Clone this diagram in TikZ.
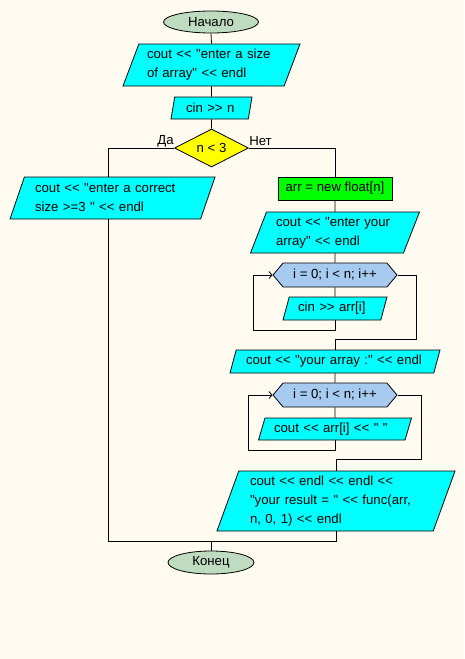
\documentclass[tikz,border=0pt]{standalone}
\usepackage{fontspec}
\newfontfamily\diagfam{Liberation Sans}
\newcommand\diagfont{\diagfam\fontsize{13.2}{19}\selectfont}
\usetikzlibrary{shapes.geometric,shapes.symbols,arrows.meta}
\definecolor{bgc}{HTML}{FFFBF0}
\definecolor{cyanf}{HTML}{00FFFF}
\definecolor{greenf}{HTML}{00FF00}
\definecolor{yelf}{HTML}{FFFF00}
\definecolor{termf}{HTML}{C0DCC0}
\definecolor{loopf}{HTML}{A6CAF0}
\begin{document}
\begin{tikzpicture}[x=1pt,y=-1pt,
 base/.style={draw=black, line width=0.8pt, font=\diagfont, inner sep=1pt},
 term/.style={base, ellipse, fill=termf},
 io/.style 2 args={base, trapezium, trapezium left angle=#1, trapezium right angle=#2, trapezium stretches body, fill=cyanf, align=left},
 proc/.style={base, rectangle, fill=greenf},
 cond/.style={base, diamond, aspect=2, fill=yelf},
 loopbox/.style={base, signal, signal to=west and east, signal pointer angle=100, fill=loopf},
 line/.style={line width=0.8pt},
 back/.style={line, -{Straight Barb[length=3pt,width=7pt]}},
 lbl/.style={font=\diagfont, inner sep=0pt}
]
\fill[bgc] (0,0) rectangle (464,659);
\useasboundingbox (0,0) rectangle (464,659);

\node[term, minimum width=95pt, minimum height=22pt] (start) at (211,22) {Начало};
\node[io={64.5}{115.5}, text width=129pt, minimum width=177pt, minimum height=42pt] (p1) at (211.5,65) {\mbox{cout << "enter a size}\\\mbox{of array" << endl}};
\node[io={72.3}{107.7}, text width=51pt, minimum width=81pt, minimum height=22pt] (cin) at (211.5,108) {\mbox{cin >> n}};
\node[cond, minimum width=74pt, minimum height=38pt] (d) at (211.5,148) {n < 3};
\node[lbl] (da) at (165.5,141) {Да};
\node[lbl] (net) at (260.5,141) {Нет};

\node[io={64.5}{115.5}, text width=155pt, minimum width=205pt, minimum height=42pt] (pl) at (112.5,198) {\mbox{cout << "enter a correct}\\\mbox{size >=3 " << endl}};

\node[proc, minimum width=114pt, minimum height=23pt] (g) at (335,188.5) {arr = new float[n]};
\node[io={64}{116}, text width=118pt, minimum width=169pt, minimum height=41pt] (p2) at (335,232.5) {\mbox{cout << "enter your}\\\mbox{array" << endl}};
\node[loopbox, minimum width=124pt, minimum height=24pt] (h1) at (335,275) {i = 0; i < n; i++};
\node[io={66.5}{113.5}, text width=74pt, minimum width=104pt, minimum height=23pt] (c1) at (335,308.5) {\mbox{cin >> arr[i]}};
\node[io={66.5}{113.5}, text width=178pt, minimum width=210pt, minimum height=23pt] (p3) at (335,361.5) {\mbox{cout << "your array :" << endl}};
\node[loopbox, minimum width=124pt, minimum height=24pt] (h2) at (335,395) {i = 0; i < n; i++};
\node[io={65.6}{114.4}, text width=122pt, minimum width=153pt, minimum height=22pt] (c2) at (335,429) {\mbox{cout << arr[i] << " "}};
\node[io={67.4}{112.6}, text width=172pt, minimum width=238pt, minimum height=60pt] (p4) at (336,501) {\mbox{cout << endl << endl <<}\\\mbox{"your result = " << func(arr,}\\\mbox{n, 0, 1) << endl}};

\node[term, minimum width=86pt, minimum height=23pt] (end) at (211,562.5) {Конец};

\draw[line] (start.south) -- (p1.north);
\draw[line] (p1.south) -- (cin.north);
\draw[line] (cin.south) -- (d.north);
\draw[line] (d.west) -| ([xshift=-4.5pt]pl.north);
\draw[line] (d.east) -| (g.north);
\draw[line] (g.south) -- (p2.north);
\draw[line] (p2.south) -- (h1.north);
\draw[line] (h1.south) -- (c1.north);
\draw[back] (c1.south) -- ++(0,10) -| ([xshift=-19pt]h1.west) -- (h1.west);
\draw[line] (h1.east) -- ++(19,0) |- ([yshift=10pt]p3.north) -- (p3.north);
\draw[line] (p3.south) -- (h2.north);
\draw[line] (h2.south) -- (c2.north);
\draw[back] (c2.south) -- ++(0,10) -| ([xshift=-24pt]h2.west) -- (h2.west);
\draw[line] (h2.east) -- ++(24,0) |- ([yshift=11pt]p4.north) -- (p4.north);
\coordinate (m) at (211,541);
\draw[line] (p4.south) |- (m);
\draw[line] ([xshift=-4.5pt]pl.south) |- (m);
\draw[line] (m) -- (end.north);
\end{tikzpicture}
\end{document}
